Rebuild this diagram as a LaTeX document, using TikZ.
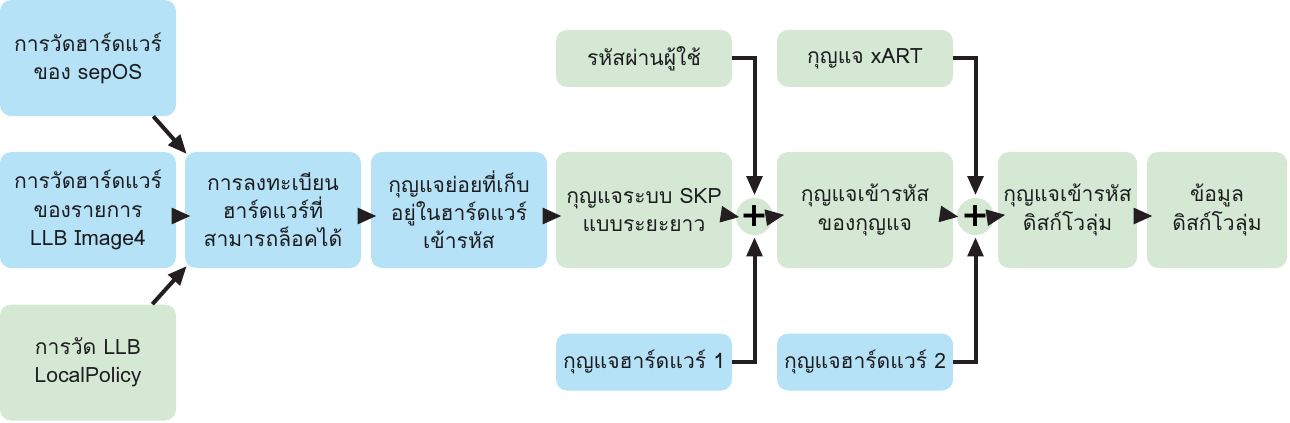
\documentclass[tikz,border=0pt]{standalone}
\usepackage{fontspec}
\usepackage{xcolor}
\newfontfamily\thaifont[Script=Thai]{Loma}
\newfontfamily\plusfont{DejaVu Sans}
\definecolor{hwblue}{HTML}{B6E2F8}
\definecolor{keygreen}{HTML}{D4E8D4}
\definecolor{inkdark}{HTML}{1D1D1F}
\definecolor{arrowink}{HTML}{231F20}
\usetikzlibrary{arrows.meta}

\begin{document}
\begin{tikzpicture}[every node/.style={font=\thaifont\fontsize{12}{16}\selectfont, text=inkdark},
  box/.style={rounded corners=0.22cm, align=center, inner sep=0pt, minimum width=3.52cm, minimum height=2.32cm},
  smallbox/.style={box, minimum height=1.14cm},
  plusnode/.style={circle, fill=keygreen, minimum size=0.74cm, inner sep=0pt, font=\plusfont\bfseries\fontsize{19}{19}\selectfont, text=black},
  arr/.style={draw=arrowink, line width=0.08cm, line join=miter, -{Triangle[length=0.38cm, width=0.31cm]}}]
  \useasboundingbox (0,0) rectangle (25.8,-8.46);
  \node[box, fill=hwblue] (seps) at (1.76,-1.16) {การวัดฮาร์ดแวร์\\ของ sepOS};
  \node[box, fill=hwblue] (img4) at (1.76,-4.20) {การวัดฮาร์ดแวร์\\ของรายการ\\LLB Image4};
  \node[box, fill=keygreen] (lpol) at (1.76,-7.25) {การวัด LLB\\LocalPolicy};
  \node[box, fill=hwblue] (reg) at (5.46,-4.20) {การลงทะเบียน\\ฮาร์ดแวร์ที่\\สามารถล็อคได้};
  \node[box, fill=hwblue] (subk) at (9.18,-4.20) {กุญแจย่อยที่เก็บ\\อยู่ในฮาร์ดแวร์\\เข้ารหัส};
  \node[box, fill=keygreen] (skp) at (12.88,-4.20) {กุญแจระบบ SKP\\แบบระยะยาว};
  \node[smallbox, fill=keygreen] (pass) at (12.88,-1.17) {รหัสผ่านผู้ใช้};
  \node[smallbox, fill=hwblue] (hw1) at (12.88,-7.24) {กุญแจฮาร์ดแวร์ 1};
  \node[plusnode] (plus1) at (15.09,-4.33) {+};
  \node[box, fill=keygreen] (keyenc) at (17.30,-4.20) {กุญแจเข้ารหัส\\ของกุญแจ};
  \node[smallbox, fill=keygreen] (xart) at (17.30,-1.17) {กุญแจ xART};
  \node[smallbox, fill=hwblue] (hw2) at (17.30,-7.24) {กุญแจฮาร์ดแวร์ 2};
  \node[plusnode] (plus2) at (19.51,-4.33) {+};
  \node[box, fill=keygreen, minimum width=2.78cm] (vol) at (21.35,-4.20) {กุญแจเข้ารหัส\\ดิสก์โวลุ่ม};
  \node[box, fill=keygreen, minimum width=2.80cm] (data) at (24.34,-4.20) {ข้อมูล\\ดิสก์โวลุ่ม};
  \draw[arr, shorten >=-0.06cm] ([xshift=-0.46cm]seps.south east) -- (reg.north west);
  \draw[arr, shorten >=-0.06cm] ([xshift=-0.48cm]lpol.north east) -- (reg.south west);
  \draw[arr, shorten <=-0.06cm, shorten >=-0.12cm] ([yshift=-0.12cm]img4.east) -- ([yshift=-0.12cm]reg.west);
  \draw[arr, shorten <=-0.06cm, shorten >=-0.12cm] ([yshift=-0.12cm]reg.east) -- ([yshift=-0.12cm]subk.west);
  \draw[arr, shorten <=-0.06cm, shorten >=-0.12cm] ([yshift=-0.12cm]subk.east) -- ([yshift=-0.12cm]skp.west);
  \draw[arr, shorten >=-0.08cm] ([yshift=-0.12cm]skp.east) -- (plus1.west);
  \draw[arr, shorten >=-0.16cm] (plus1.east) -- ([yshift=-0.12cm]keyenc.west);
  \draw[arr, shorten >=-0.04cm] ([yshift=-0.12cm]keyenc.east) -- (plus2.west);
  \draw[arr, shorten >=-0.16cm] (plus2.east) -- ([yshift=-0.12cm]vol.west);
  \draw[arr, shorten <=-0.06cm, shorten >=-0.12cm] ([yshift=-0.12cm]vol.east) -- ([yshift=-0.12cm]data.west);
  \draw[arr, shorten >=0.05cm] (pass.east) -| (plus1.north);
  \draw[arr, shorten >=0.04cm] (hw1.east) -| (plus1.south);
  \draw[arr, shorten >=0.05cm] (xart.east) -| (plus2.north);
  \draw[arr, shorten >=0.04cm] (hw2.east) -| (plus2.south);
\end{tikzpicture}
\end{document}
